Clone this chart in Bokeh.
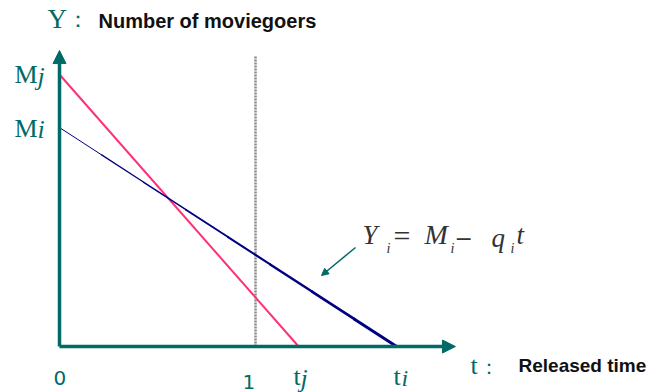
from bokeh.plotting import figure
from bokeh.models import Label, Arrow, NormalHead, Range1d
from bokeh.embed import file_html
from bokeh.resources import INLINE

# ---- model values: audience of a film decays linearly with release time ----
M_j = 100.0      # initial audience of film j
M_i = 80.5       # initial audience of film i
t_j = 1.22       # time at which film j's audience reaches zero
t_i = 1.72       # time at which film i's audience reaches zero
t_mark = 1.0     # reference time (dotted marker)
axis_t_end = 2.02
axis_y_end = 108.8
marker_top = 107.0

TEAL = "#006b66"
PINK = "#ff2f7a"
NAVY = "#000080"
W, H = 668, 392

p = figure(width=W, height=H, output_backend="svg", toolbar_location=None,
           x_range=Range1d(-0.301, 3.107), y_range=Range1d(-16.9, 127.2),
           min_border=0, x_axis_type=None, y_axis_type=None)
p.grid.visible = False
p.outline_line_color = None
p.background_fill_color = "white"
p.border_fill_color = "white"

# dotted marker at t = 1
p.segment(x0=[t_mark], y0=[0], x1=[t_mark], y1=[marker_top],
          line_color="#8a8a8a", line_width=2.5, line_dash="2 1")

# film j: straight line from M_j down to t_j
p.line([0, t_j], [M_j, 0], line_color=PINK, line_width=2)

# film i: line from M_i down to t_i, drawn thicker toward the axis
n_seg = 8
ts = [t_i * k / n_seg for k in range(n_seg + 1)]
ys = [M_i * (1 - t / t_i) for t in ts]
widths = [1.0 + 2.0 * k / (n_seg - 1) for k in range(n_seg)]
p.segment(x0=ts[:-1], y0=ys[:-1], x1=ts[1:], y1=ys[1:],
          line_color=NAVY, line_width=widths, line_cap="round")

# axes with arrow heads
p.add_layout(Arrow(x_start=0, y_start=0, x_end=axis_t_end, y_end=0,
                   line_color=TEAL, line_width=3.5,
                   end=NormalHead(size=13, fill_color=TEAL, line_color=TEAL)))
p.add_layout(Arrow(x_start=0, y_start=0, x_end=0, y_end=axis_y_end,
                   line_color=TEAL, line_width=3.5,
                   end=NormalHead(size=13, fill_color=TEAL, line_color=TEAL)))


def lab(text, x, y, size, color=TEAL, font="Liberation Serif", style="normal",
        align="left"):
    """Place a text with its vertical middle at pixel row y (from the top)."""
    p.add_layout(Label(x=x, y=H - y, x_units="screen", y_units="screen",
                       text=text, text_font=font, text_font_size=f"{size}px",
                       text_font_style=style, text_color=color,
                       text_align=align, text_baseline="middle"))


# axis titles
lab("Y", 47, 18, 27)
lab("：", 66, 19, 22)
lab("Number of moviegoers", 98, 20, 20, color="#111111",
    font="Liberation Sans", style="bold")
lab("t", 470, 365, 26)
lab("：", 478, 366, 20)
lab("Released time", 518, 365, 19, color="#111111",
    font="Liberation Sans", style="bold")

# intercept labels on the vertical axis
lab("M", 14, 74, 26)
lab("j", 37, 76, 26, style="italic")
lab("M", 14, 128, 26)
lab("i", 37, 129, 26, style="italic")

# tick labels on the time axis
lab("0", 53, 377, 20, font="DejaVu Sans")
lab("1", 242, 381, 20, font="DejaVu Sans")
lab("t", 293, 376, 26)
lab("j", 300, 378, 26, style="italic")
lab("t", 393, 376, 26)
lab("i", 401, 377, 24, style="italic")

# equation for film i
EQ = "#333333"
lab("Y", 362, 234, 27, color=EQ, style="italic")
lab("i", 386, 248, 14, color=EQ, style="italic")
lab("=", 393, 235, 30, color=EQ)
lab("M", 424, 234, 28, color=EQ, style="italic")
lab("i", 450, 248, 14, color=EQ, style="italic")
lab("−", 454, 237, 22, color=EQ, font="DejaVu Sans")
lab("q", 491, 237, 27, color=EQ, style="italic")
lab("i", 510, 248, 14, color=EQ, style="italic")
lab("t", 516, 234, 27, color=EQ, style="italic")

# pointer from the equation to the line of film i
p.add_layout(Arrow(x_start=355, y_start=H - 247, x_end=321, y_end=H - 275,
                   start_units="screen", end_units="screen",
                   line_color=TEAL, line_width=1.5,
                   end=NormalHead(size=7, fill_color=TEAL, line_color=TEAL)))

open("out.html", "w").write(file_html(p, INLINE))
